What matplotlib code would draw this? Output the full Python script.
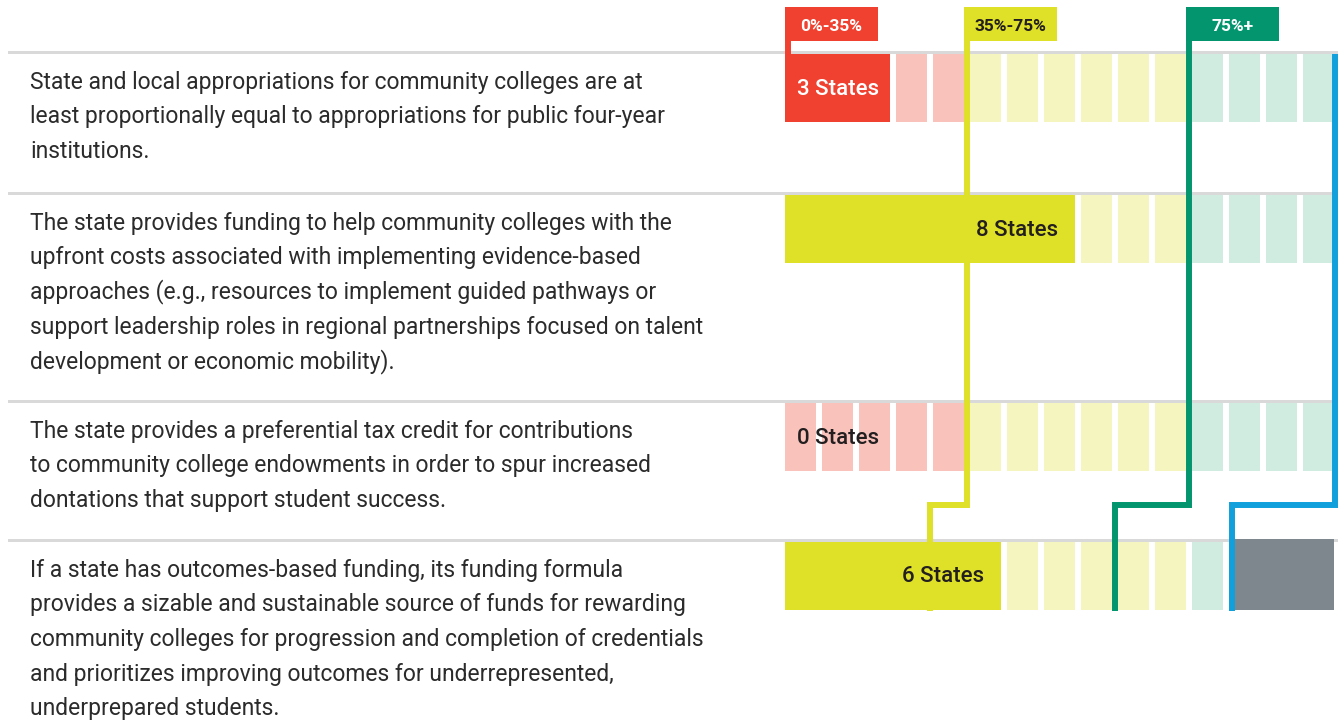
import matplotlib
matplotlib.use("Agg")
import matplotlib.pyplot as plt
from matplotlib.patches import Rectangle

# statements, one list of wrapped lines per row
statements = [
    ["State and local appropriations for community colleges are at",
     "least proportionally equal to appropriations for public four-year",
     "institutions."],
    ["The state provides funding to help community colleges with the",
     "upfront costs associated with implementing evidence-based",
     "approaches (e.g., resources to implement guided pathways or",
     "support leadership roles in regional partnerships focused on talent",
     "development or economic mobility)."],
    ["The state provides a preferential tax credit for contributions",
     "to community college endowments in order to spur increased",
     "dontations that support student success."],
    ["If a state has outcomes-based funding, its funding formula",
     "provides a sizable and sustainable source of funds for rewarding",
     "community colleges for progression and completion of credentials",
     "and prioritizes improving outcomes for underrepresented,",
     "underprepared students."],
]
state_counts = [3, 8, 0, 6]
count_labels = ["3 States", "8 States", "0 States", "6 States"]
total_states = 15
not_applicable = [0, 0, 0, 3]
band_labels = ["0%-35%", "35%-75%", "75%+"]
band_starts = [0, 5, 11]           # band boundaries on the 15-state scale
row4_starts = [0, 4, 9]            # boundaries for the 12 eligible states in row 4

# styles
text_col = "#2b2b2b"
sep_col = "#d9d9d9"
solid_cols = ["#f04130", "#dfe028", "#03966e"]
light_cols = ["#f9c3bc", "#f5f5c0", "#d0ece0"]
label_text_cols = ["white", "#231f20", "white"]
na_col = "#7e878d"
blue = "#12a0dc"

sep_y = [51, 192, 400, 539]        # top of each row separator, pixels
cell_h = 68
line_gap = 34.7
lw = 4.3

plt.rcParams["font.family"] = ["Roboto", "DejaVu Sans"]

fig = plt.figure(figsize=(13.38, 7.25), dpi=100)
fig.patch.set_facecolor("white")

# left side: text and separators in pixel coordinates
ax_t = fig.add_axes([0, 0, 1, 1])
ax_t.set_xlim(0, 1338)
ax_t.set_ylim(725, 0)
ax_t.axis("off")

for i, lines in enumerate(statements):
    ax_t.add_patch(Rectangle((8, sep_y[i]), 1338, 3, color=sep_col, lw=0, zorder=1))
    for k, ln in enumerate(lines):
        ax_t.text(30, sep_y[i] + 37.5 + k * line_gap, ln, fontsize=16.5,
                  color=text_col, va="baseline", ha="left")

# right side: cells in state units
x0, pitch = 785, 37
ax = fig.add_axes([x0 / 1338, 0, (1338 - x0) / 1338, 1])
ax.set_xlim(0, (1338 - x0) / pitch)
ax.set_ylim(725, 0)
ax.axis("off")
cw = 31 / pitch


def band_of(i):
    b = 0
    for j, s in enumerate(band_starts):
        if i >= s:
            b = j
    return b


for r, n in enumerate(state_counts):
    top = sep_y[r] + 3
    eligible = total_states - not_applicable[r]
    share = n / eligible
    solid = 0 if share < 0.35 else (1 if share < 0.75 else 2)
    if n > 0:
        ax.bar(0, cell_h, width=(n - 1) + cw, bottom=top, align="edge",
               color=solid_cols[solid], lw=0, zorder=2)
    for c in range(n, eligible):
        ax.bar(c, cell_h, width=cw, bottom=top, align="edge",
               color=light_cols[band_of(c)], lw=0, zorder=2)
    if not_applicable[r]:
        ax.bar(eligible, cell_h + 3, width=total_states - eligible - 1 + cw,
               bottom=top - 3, align="edge", color=na_col, lw=0, zorder=2)
    tcol = "white" if (n > 0 and solid != 1) else "#231f20"
    ty = top + cell_h / 2 + 1
    if n > 3:
        ax.text(n - 1 + cw - 17 / pitch, ty, count_labels[r], ha="right",
                va="center", fontsize=16, fontweight="medium", color=tcol, zorder=5)
    else:
        ax.text(12 / pitch, ty, count_labels[r], ha="left", va="center",
                fontsize=16, fontweight="medium", color=tcol, zorder=5)

# threshold markers
half = 3 / pitch
jog_y = 505
bottom_y = 611
label_top, label_bot = 7, 41
for b, s in enumerate(band_starts):
    x = s - half if s > 0 else half
    if b == 0:
        ax.plot([x, x], [label_top, sep_y[0] + 3], color=solid_cols[b], lw=lw,
                solid_capstyle="butt", zorder=4)
    else:
        x4 = row4_starts[b] - half
        ax.plot([x, x, x4, x4], [label_top, jog_y, jog_y, bottom_y],
                color=solid_cols[b], lw=lw, solid_capstyle="butt",
                solid_joinstyle="miter", zorder=4)
    ax.add_patch(Rectangle((x - half, label_top), 93 / pitch, label_bot - label_top,
                           color=solid_cols[b], lw=0, zorder=4))
    ax.text(x - half + 93 / pitch / 2, (label_top + label_bot) / 2 + 2, band_labels[b],
            ha="center", va="center", fontsize=12.5, fontweight="bold",
            color=label_text_cols[b], zorder=5)

# end-of-scale marker
xe = total_states - 0.14
xe4 = total_states - not_applicable[3] + half
ax.plot([xe, xe, xe4, xe4], [sep_y[0] + 3, jog_y, jog_y, bottom_y], color=blue,
        lw=lw, solid_capstyle="butt", solid_joinstyle="miter", zorder=4)

fig.savefig("out.png", dpi=100, facecolor="white")
